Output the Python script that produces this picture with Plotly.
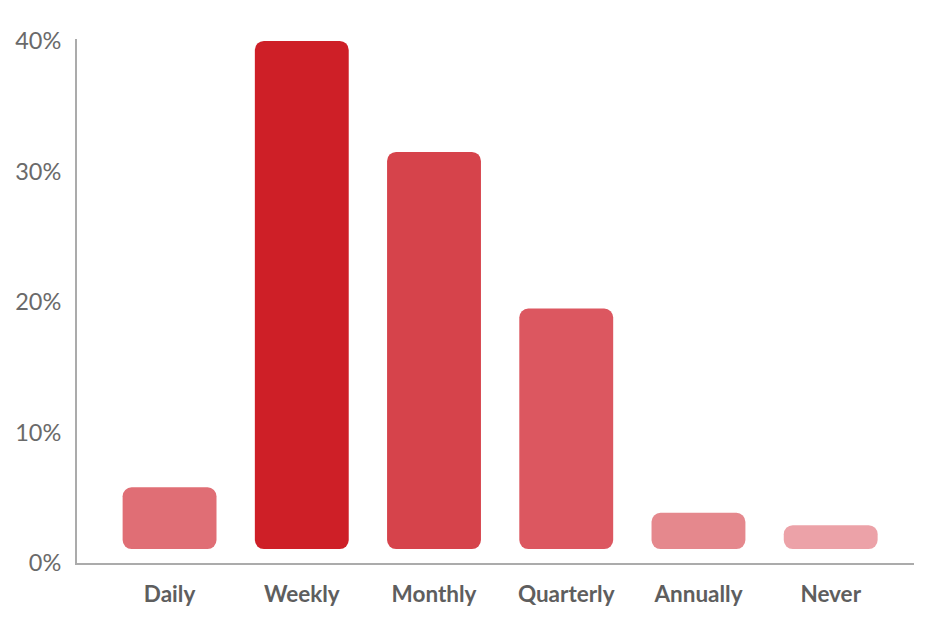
import plotly.graph_objects as go

categories = ["Daily", "Weekly", "Monthly", "Quarterly", "Annually", "Never"]
values = [5.8, 40.0, 31.5, 19.5, 3.85, 2.9]
colors = ["#E06E75", "#CE1F27", "#D6434B", "#DC5760", "#E5888D", "#ECA2A8"]
y_ticks = [0, 10, 20, 30, 40]
y_tick_labels = ["0%", "10%", "20%", "30%", "40%"]

bar_floor = 1.07  # bars float slightly above the axis
bar_len = [v - bar_floor for v in values]

fig = go.Figure()
fig.add_trace(go.Bar(
    x=categories, y=bar_len, base=[bar_floor] * len(categories),
    marker=dict(color=colors, cornerradius=9, line=dict(width=0)),
    width=0.71, hoverinfo="skip", showlegend=False,
))

fig.update_layout(
    width=933, height=623,
    margin=dict(l=69, r=27, t=31, b=68),
    plot_bgcolor="white", paper_bgcolor="white",
    font=dict(family="Lato, Open Sans, sans-serif"),
)
fig.update_xaxes(
    type="category", range=[-0.70, 5.63], automargin=False,
    showline=True, linecolor="#ABABAB", linewidth=2,
    showgrid=False, zeroline=False, ticks="",
    tickfont=dict(size=22.5, color="#5E5E5E", family="Lato, sans-serif", weight=700),
    ticklabelstandoff=10,
)
fig.update_yaxes(
    range=[0, 40.15], automargin=False,
    tickvals=y_ticks, ticktext=y_tick_labels,
    showline=True, linecolor="#ABABAB", linewidth=2,
    showgrid=False, zeroline=False, ticks="",
    tickfont=dict(size=23.5, color="#6A6A6A", family="Lato, sans-serif"),
    ticklabelstandoff=9,
)

fig.write_html("out.html")
